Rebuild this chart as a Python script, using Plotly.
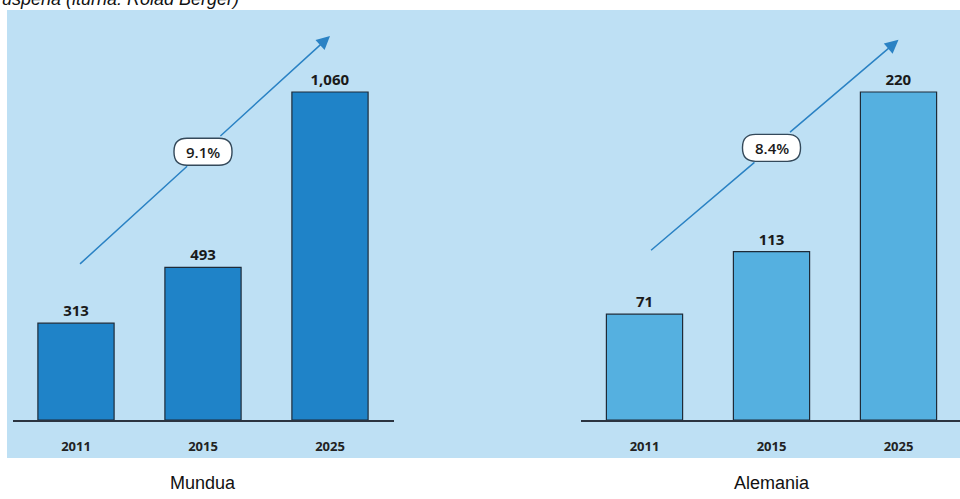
import plotly.graph_objects as go

# Data
years = ["2011", "2015", "2025"]
world_values = [313, 493, 1060]
germany_values = [71, 113, 220]
world_growth = "9.1%"
germany_growth = "8.4%"
panel_titles = ["Mundua", "Alemania"]
source_text = "uspena (iturria: Rolad Berger)"

W, H = 960, 499
BASE_PX = 420           # pixel row of the bar baseline
TOP_PX = 10             # pixel row of the top of the shaded panel
PX_PER_CAT = 127

panel_bg = "#BEE0F4"
world_color = "#1F83C8"
germany_color = "#55B0E0"
arrow_color = "#2A82C4"
outline = "#1E2B38"

ydom = [1 - BASE_PX / H, 1 - TOP_PX / H]
yrange_world = [0, 1325]
yrange_germany = [0, 275]
plot_h = BASE_PX - TOP_PX

label_font = dict(family="Open Sans", size=15, color="#1a1a1a", weight=700)

fig = go.Figure()

fig.add_trace(go.Bar(
    x=years, y=world_values, xaxis="x", yaxis="y",
    marker=dict(color=world_color, line=dict(color=outline, width=1.2)),
    width=0.6, texttemplate="%{y:,}", textposition="outside",
    textfont=label_font, cliponaxis=False, showlegend=False, hoverinfo="skip",
))
fig.add_trace(go.Bar(
    x=years, y=germany_values, xaxis="x2", yaxis="y2",
    marker=dict(color=germany_color, line=dict(color=outline, width=1.2)),
    width=0.6, texttemplate="%{y:,}", textposition="outside",
    textfont=label_font, cliponaxis=False, showlegend=False, hoverinfo="skip",
))

xaxis_common = dict(
    type="category", showgrid=False, zeroline=False,
    showline=True, linecolor="#2b3440", linewidth=1.5,
    ticks="", ticklabelstandoff=14,
    tickfont=dict(family="Open Sans", size=13, color="#222", weight=700),
    fixedrange=True,
)
yaxis_common = dict(visible=False, showgrid=False, zeroline=False, domain=ydom, fixedrange=True)

left_x0 = 12.5
right_x0 = 581
right_span = (W - right_x0) / PX_PER_CAT

fig.update_layout(
    width=W, height=H,
    margin=dict(l=0, r=0, t=0, b=0),
    paper_bgcolor="white", plot_bgcolor="rgba(0,0,0,0)",
    bargap=0.4,
    xaxis=dict(domain=[left_x0 / W, (left_x0 + 3 * PX_PER_CAT) / W], range=[-0.5, 2.5], **xaxis_common),
    xaxis2=dict(domain=[right_x0 / W, 1.0], range=[-0.5, -0.5 + right_span], anchor="y2", **xaxis_common),
    yaxis=dict(range=yrange_world, anchor="x", **yaxis_common),
    yaxis2=dict(range=yrange_germany, anchor="x2", **yaxis_common),
)

# shaded backdrop
fig.add_shape(type="rect", xref="paper", yref="paper",
              x0=7 / W, x1=1, y0=1 - 458 / H, y1=ydom[1],
              fillcolor=panel_bg, line=dict(width=0), layer="below")

BADGE_W, BADGE_H = 58, 27


def rounded_path(w, h, r):
    x0, x1, y0, y1 = -w / 2, w / 2, -h / 2, h / 2
    return (f"M{x0 + r},{y0} L{x1 - r},{y0} Q{x1},{y0} {x1},{y0 + r} "
            f"L{x1},{y1 - r} Q{x1},{y1} {x1 - r},{y1} L{x0 + r},{y1} "
            f"Q{x0},{y1} {x0},{y1 - r} L{x0},{y0 + r} Q{x0},{y0} {x0 + r},{y0} Z")


# growth arrows (category index on x, value on y), interrupted by a rounded badge
panels = [
    dict(xr="x", yr="y", tail=(0.02, 500), head=(2.0, 1241), yrange=yrange_world, label=world_growth),
    dict(xr="x2", yr="y2", tail=(0.04, 113), head=(2.0, 255), yrange=yrange_germany, label=germany_growth),
]
for p in panels:
    (tx, ty), (hx, hy) = p["tail"], p["head"]
    px_per_unit = plot_h / (p["yrange"][1] - p["yrange"][0])
    slope = (hy - ty) / (hx - tx)
    bx = 1.0
    by = ty + slope * (bx - tx)
    # where the line leaves the badge's top/bottom edge
    dy_units = (BADGE_H / 2 + 1) / px_per_unit
    dx_cat = dy_units / slope
    fig.add_annotation(
        x=bx - dx_cat, y=by - dy_units, ax=tx, ay=ty,
        xref=p["xr"], yref=p["yr"], axref=p["xr"], ayref=p["yr"],
        text="", showarrow=True, arrowhead=0, arrowwidth=1.5, arrowcolor=arrow_color,
    )
    fig.add_annotation(
        x=hx, y=hy, ax=bx + dx_cat, ay=by + dy_units,
        xref=p["xr"], yref=p["yr"], axref=p["xr"], ayref=p["yr"],
        text="", showarrow=True, arrowhead=2, arrowsize=1.8, arrowwidth=1.5,
        arrowcolor=arrow_color,
    )
    fig.add_shape(type="path", xref=p["xr"], yref=p["yr"], xsizemode="pixel", ysizemode="pixel",
                  xanchor=bx, yanchor=by, path=rounded_path(BADGE_W, BADGE_H, 13),
                  fillcolor="white", line=dict(color="#34495a", width=1.4), layer="above")
    fig.add_annotation(x=bx, y=by, xref=p["xr"], yref=p["yr"], text=p["label"], showarrow=False,
                       font=dict(family="Open Sans", size=15, color="#1a1a1a", weight=600))

# panel titles
for xr, title in zip(["x", "x2"], panel_titles):
    fig.add_annotation(x=1, y=1 - 483 / H, xref=xr, yref="paper", yanchor="middle", text=title,
                       showarrow=False, font=dict(family="Liberation Sans, Arial", size=18, color="#111"))

# source line (top)
fig.add_annotation(x=0, y=1 - 11.5 / H, xref="paper", yref="paper", xanchor="left", yanchor="bottom",
                   text=f"<i>{source_text}</i>", showarrow=False,
                   font=dict(family="Liberation Sans, Arial", size=18, color="#111"))

fig.write_html("out.html")
